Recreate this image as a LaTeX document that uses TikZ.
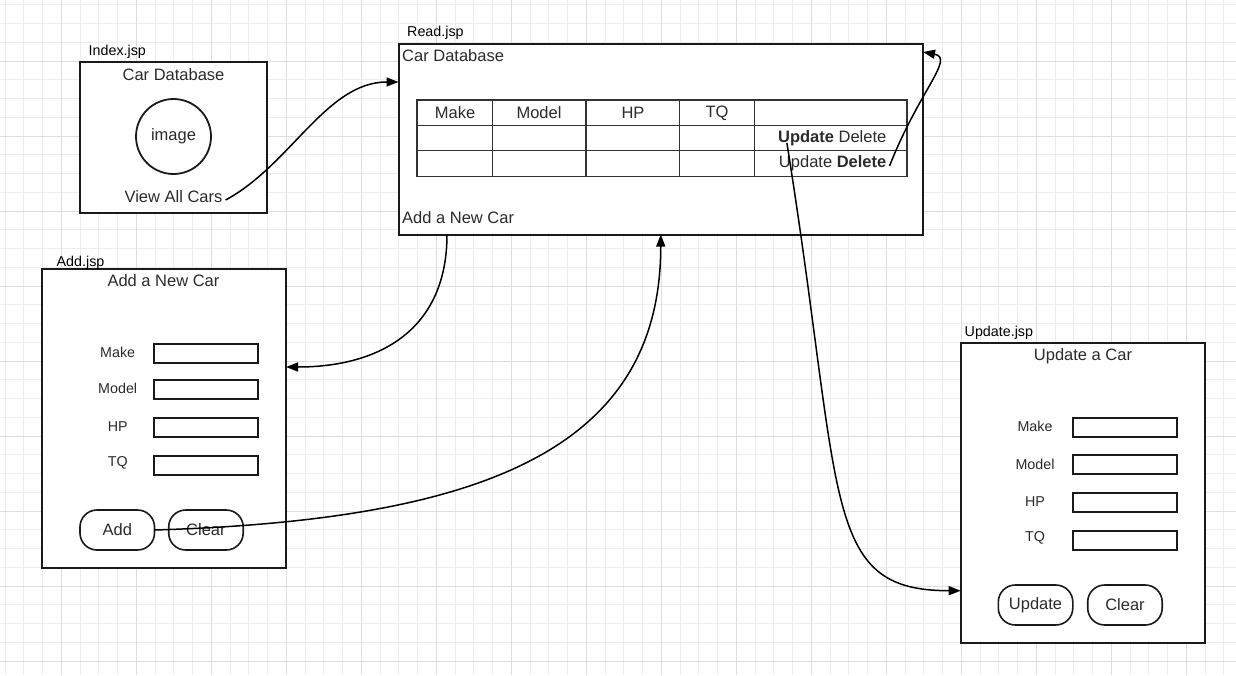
\documentclass[tikz,border=0pt]{standalone}
\usepackage{fontspec}
\setmainfont{Liberation Sans}
\usetikzlibrary{arrows.meta}
\definecolor{txt}{HTML}{2B2B2B}
\definecolor{edge}{HTML}{1A1A1A}
\definecolor{tline}{HTML}{333333}
\definecolor{gridl}{HTML}{EDEDED}
\definecolor{gridd}{HTML}{DEDEDE}
\begin{document}
\begin{tikzpicture}[x=1pt,y=-1pt,
  font=\fontsize{16.5}{19}\selectfont, text=txt,
  page/.style={draw=edge, line width=2pt, fill=white, rectangle, inner sep=0pt, outer sep=0pt, anchor=north west},
  field/.style={draw=edge, line width=1.8pt, fill=white, rectangle, inner sep=0pt, outer sep=0pt, anchor=north west, minimum width=103.7pt, minimum height=19pt},
  btn/.style={draw=edge, line width=1.6pt, fill=white, rectangle, rounded corners=17pt, inner sep=0pt, outer sep=0pt, anchor=north west, minimum width=74.5pt, minimum height=40pt},
  ttl/.style={inner sep=0pt},
  lbl/.style={inner sep=0pt, font=\fontsize{14.3}{17}\selectfont},
  jsp/.style={inner sep=0pt, anchor=west, text=black, font=\fontsize{14.3}{17}\selectfont},
  tbl/.style={draw=tline, line width=1.4pt},
  conn/.style={draw=black, line width=1.5pt, -{Triangle[length=12pt,width=9pt]}}
]
% canvas
\useasboundingbox (0,0) rectangle (1236,675);
\fill[white] (0,0) rectangle (1236,675);
\foreach \i in {0,...,66} {
  \draw[gridl, line width=1pt] ({5+18.75*\i},0) -- ({5+18.75*\i},675);
}
\foreach \i in {0,...,36} {
  \draw[gridl, line width=1pt] (0,{4.75+18.75*\i}) -- (1236,{4.75+18.75*\i});
}
\foreach \i in {0,...,16} {
  \draw[gridd, line width=1pt] ({61.25+75*\i},0) -- ({61.25+75*\i},675);
}
\foreach \i in {0,...,8} {
  \draw[gridd, line width=1pt] (0,{61+75*\i}) -- (1236,{61+75*\i});
}

% ---------- Index.jsp ----------
\node[page, minimum width=187pt, minimum height=151pt] (idx) at (80,62) {};
\node[jsp] (idxlbl) at (88.5,52) {Index.jsp};
\node[ttl] (idxttl) at (173.5,75) {Car Database};
\node[draw=edge, line width=1.8pt, circle, minimum size=75pt, inner sep=0pt] (img) at (173.5,136.5) {image};
\node[ttl] (vac) at (173.5,197) {View All Cars};

% ---------- Read.jsp ----------
\node[page, minimum width=524.5pt, minimum height=191pt] (read) at (398.5,43.5) {};
\node[jsp] (readlbl) at (407,33) {Read.jsp};
\node[ttl, anchor=west] (readttl) at (402,56) {Car Database};
\node[ttl, anchor=west] (readadd) at (402,218) {Add a New Car};
% table
\draw[tbl] (417,100) rectangle (907,176.5);
\draw[tbl] (417,125.3) -- (907,125.3);
\draw[tbl] (417,150.7) -- (907,150.7);
\foreach \cx in {492.5,586,679.6,754.6} {
  \draw[tbl] (\cx,100) -- (\cx,176.5);
}
\node[ttl] (hmake) at (455,113) {Make};
\node[ttl] (hmodel) at (539,113) {Model};
\node[ttl] (hhp) at (633,113) {HP};
\node[ttl] (htq) at (717,113) {TQ};
\node[ttl, anchor=east] (row1) at (886.5,138) {\textbf{Update} Delete};
\node[ttl, anchor=east] (row2) at (886.5,163.5) {Update \textbf{Delete}};

% ---------- Add.jsp ----------
\node[page, minimum width=243.7pt, minimum height=299.6pt] (add) at (42.3,268.7) {};
\node[jsp] (addlbl) at (56.5,262.5) {Add.jsp};
\node[ttl] (addttl) at (163.5,281) {Add a New Car};
\node[lbl] (amake) at (117.7,352) {Make};
\node[lbl] (amodel) at (117.7,388.5) {Model};
\node[lbl] (ahp) at (117.7,427) {HP};
\node[lbl] (atq) at (117.7,463) {TQ};
\node[field] (fmake) at (154.3,343.7) {};
\node[field] (fmodel) at (154.3,379.7) {};
\node[field] (fhp) at (154.3,417.7) {};
\node[field] (ftq) at (154.3,456.3) {};
\node[btn] (addb) at (80,510) {Add};
\node[btn] (clrb) at (168.7,510) {Clear};

% ---------- Update.jsp ----------
\node[page, minimum width=244.3pt, minimum height=300pt] (upd) at (960.7,343.3) {};
\node[jsp] (updlbl) at (964.5,333) {Update.jsp};
\node[ttl] (updttl) at (1083,356) {Update a Car};
\node[lbl] (umake) at (1035,426.7) {Make};
\node[lbl] (umodel) at (1035,464) {Model};
\node[lbl] (uhp) at (1035,502) {HP};
\node[lbl] (utq) at (1035,538.3) {TQ};
\node[field] (gmake) at (1073,418.3) {};
\node[field] (gmodel) at (1073,455) {};
\node[field] (ghp) at (1073,493) {};
\node[field] (gtq) at (1073,531) {};
\node[btn] (updb) at (998.3,585) {Update};
\node[btn] (clrb2) at (1087.7,585) {Clear};

% ---------- connectors ----------
\draw[conn] ([xshift=3pt,yshift=-3pt]vac.east) .. controls +(65,-35) and +(-72,0) .. ([yshift=57pt]read.west);
\draw[conn] ([xshift=3pt,yshift=-2.5pt]row2.east) .. controls +(30,-76) and +(32,6) .. ([yshift=-8.5pt]read.north east);
\draw[conn] ([xshift=9pt,yshift=-5pt]row1.west) .. controls +(57,357) and +(-140,0) .. ([yshift=-97.4pt]upd.west);
\draw[conn] ([xshift=-213.75pt]read.south) .. controls +(0,95) and +(94,0) .. ([yshift=51.5pt]add.east);
\draw[conn] (addb.east) .. controls +(326,-10) and +(0,216) .. (read.south);
\end{tikzpicture}
\end{document}
